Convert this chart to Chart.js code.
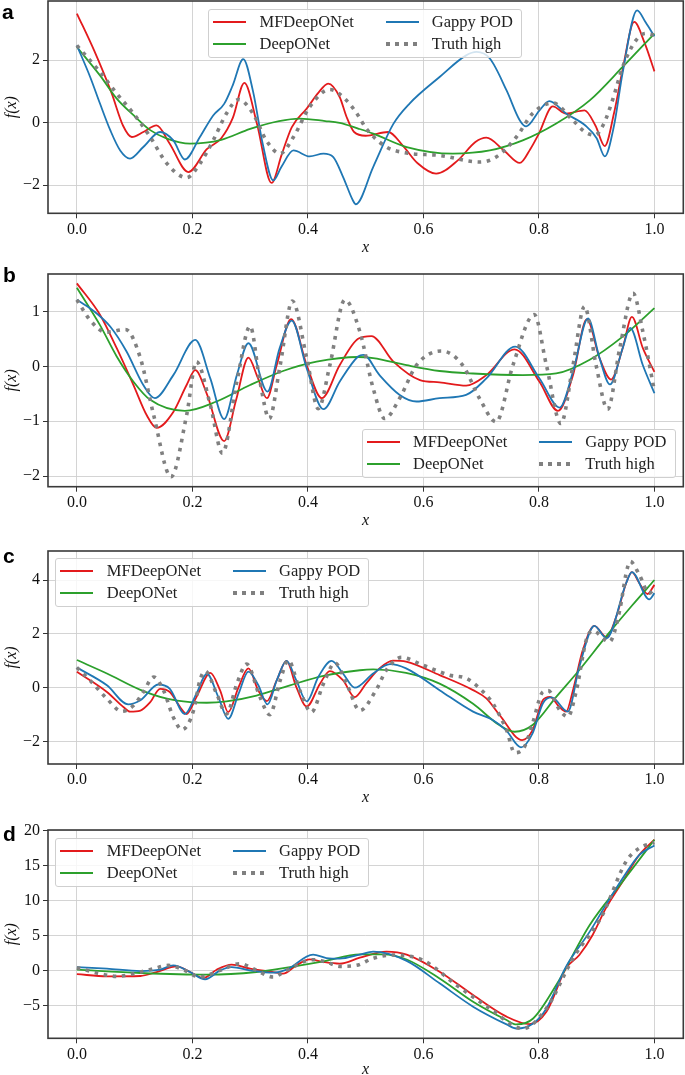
<!DOCTYPE html>
<html lang="en">
<head>
<meta charset="UTF-8"/>
<title>MFDeepONet vs DeepONet vs Gappy POD</title>
<script src="https://cdn.jsdelivr.net/npm/chart.js@4.4.1/dist/chart.umd.min.js"></script>
<style>
  html, body { margin: 0; padding: 0; background: #fff; }
  body { width: 685px; height: 1075px; position: relative; overflow: hidden; font-family: "Liberation Serif", serif; }
  canvas { position: absolute; left: 0; }
  .tag { position: absolute; font: bold 21px/21px "Liberation Sans", Arial, sans-serif; color: #000; }
  .legend { position: absolute; width: 314px; height: 49px; border: 1px solid #cfcfcf; border-radius: 3px;
            background: rgba(255,255,255,0.8); box-sizing: border-box; }
  .sample { position: absolute; width: 33px; }
  .label { position: absolute; font-size: 16.5px; line-height: 16px; color: #222; transform: translateY(-50%); white-space: nowrap; }
</style>
</head>
<body>
<canvas id="ca" width="685" height="260" style="top:0px"></canvas>
<canvas id="cb" width="685" height="265" style="top:265px"></canvas>
<canvas id="cc" width="685" height="270" style="top:540px"></canvas>
<canvas id="cd" width="685" height="260" style="top:815px"></canvas>
<script>
// ---- data ----
const names = ['MFDeepONet', 'DeepONet', 'Gappy POD', 'Truth high']
const xTicks = [0, 0.2, 0.4, 0.6, 0.8, 1.0]
const xTickLabels = ['0.0', '0.2', '0.4', '0.6', '0.8', '1.0']

// panel a
const aMF = [[0,3.49],[0.03,2.3],[0.06,0.95],[0.08,-0.1],[0.095,-0.46],[0.115,-0.3],[0.138,-0.09],[0.16,-0.65],[0.193,-1.58],[0.225,-0.85],[0.25,-0.5],[0.27,0.15],[0.29,1.27],[0.312,-0.05],[0.337,-1.93],[0.355,-1.0],[0.372,-0.15],[0.398,0.45],[0.418,0.95],[0.435,1.25],[0.455,0.82],[0.467,0.18],[0.48,-0.3],[0.5,-0.42],[0.539,-0.3],[0.565,-0.75],[0.59,-1.3],[0.622,-1.63],[0.66,-1.2],[0.69,-0.62],[0.709,-0.48],[0.74,-0.9],[0.767,-1.29],[0.785,-0.85],[0.8,-0.35],[0.824,0.52],[0.847,0.29],[0.879,0.39],[0.898,-0.1],[0.914,-0.75],[0.93,0.3],[0.945,1.7],[0.965,3.22],[0.983,2.55],[1.0,1.64]]
const aDeep = [[0,2.42],[0.04,1.51],[0.069,0.77],[0.098,0.24],[0.127,-0.24],[0.156,-0.51],[0.196,-0.67],[0.25,-0.55],[0.3,-0.2],[0.35,0.05],[0.386,0.13],[0.43,0.05],[0.455,-0.01],[0.487,-0.19],[0.513,-0.35],[0.571,-0.78],[0.651,-0.99],[0.715,-0.89],[0.772,-0.57],[0.83,-0.03],[0.888,0.71],[0.945,1.78],[1.0,2.85]]
const aGappy = [[0,2.47],[0.023,1.46],[0.04,0.61],[0.058,-0.25],[0.075,-0.89],[0.092,-1.15],[0.115,-0.78],[0.144,-0.3],[0.167,-0.57],[0.187,-1.18],[0.213,-0.46],[0.236,0.23],[0.255,0.6],[0.27,1.2],[0.288,2.03],[0.305,1.0],[0.322,-0.7],[0.34,-1.85],[0.354,-1.42],[0.375,-0.89],[0.403,-1.08],[0.427,-0.99],[0.444,-1.1],[0.461,-1.74],[0.478,-2.49],[0.483,-2.61],[0.513,-1.42],[0.548,-0.04],[0.576,0.61],[0.628,1.46],[0.674,2.15],[0.692,2.26],[0.715,2.05],[0.744,1.03],[0.767,0.07],[0.778,-0.12],[0.801,0.39],[0.818,0.69],[0.847,0.29],[0.881,-0.1],[0.9,-0.5],[0.914,-1.08],[0.93,-0.1],[0.945,1.6],[0.97,3.59],[0.985,3.2],[1.0,2.76]]
const aTruth = [[0,2.47],[0.04,1.62],[0.069,0.93],[0.098,0.29],[0.127,-0.46],[0.156,-1.31],[0.19,-1.76],[0.213,-1.31],[0.236,-0.57],[0.259,0.29],[0.28,0.74],[0.305,0.29],[0.328,-0.57],[0.352,-0.99],[0.375,-0.46],[0.403,0.5],[0.438,1.06],[0.467,0.71],[0.487,0.23],[0.501,-0.19],[0.536,-0.78],[0.571,-0.97],[0.628,-1.05],[0.697,-1.26],[0.726,-1.1],[0.761,-0.46],[0.789,0.29],[0.824,0.63],[0.859,0.07],[0.88,-0.3],[0.897,-0.4],[0.912,-0.05],[0.928,0.75],[0.945,1.78],[0.968,2.63],[0.985,2.85],[1.0,2.8]]
const aYTicks = [-2, 0, 2]
const aYLabels = ['\u22122', '0', '2']

// panel b
const bMF = [[0,1.51],[0.04,0.94],[0.069,0.33],[0.098,-0.34],[0.121,-0.89],[0.138,-1.12],[0.167,-0.83],[0.19,-0.34],[0.205,-0.07],[0.225,-0.5],[0.255,-1.36],[0.276,-0.6],[0.297,0.16],[0.313,-0.2],[0.329,-0.58],[0.346,0.02],[0.371,0.86],[0.398,0.02],[0.424,-0.58],[0.455,0.02],[0.487,0.5],[0.51,0.55],[0.548,0.085],[0.594,-0.25],[0.628,-0.29],[0.674,-0.35],[0.709,-0.16],[0.758,0.31],[0.801,-0.28],[0.833,-0.81],[0.859,-0.16],[0.883,0.86],[0.905,0.15],[0.925,-0.24],[0.945,0.33],[0.961,0.9],[0.98,0.33],[1.0,-0.1]]
const bDeep = [[0,1.43],[0.04,0.75],[0.069,0.18],[0.098,-0.28],[0.127,-0.61],[0.187,-0.81],[0.242,-0.64],[0.3,-0.34],[0.357,-0.085],[0.415,0.085],[0.487,0.17],[0.513,0.15],[0.571,0.02],[0.628,-0.085],[0.686,-0.13],[0.772,-0.16],[0.83,-0.13],[0.888,0.12],[0.945,0.54],[1.0,1.06]]
const bGappy = [[0,1.21],[0.03,1.0],[0.058,0.72],[0.086,0.27],[0.115,-0.34],[0.135,-0.58],[0.167,-0.16],[0.205,0.48],[0.231,-0.22],[0.255,-0.96],[0.277,-0.16],[0.297,0.42],[0.33,-0.46],[0.351,0.33],[0.372,0.83],[0.398,-0.04],[0.427,-0.78],[0.455,-0.28],[0.487,0.18],[0.496,0.21],[0.524,-0.16],[0.559,-0.52],[0.588,-0.64],[0.628,-0.58],[0.674,-0.52],[0.709,-0.22],[0.759,0.36],[0.801,-0.22],[0.836,-0.75],[0.859,-0.1],[0.885,0.87],[0.905,0.15],[0.923,-0.33],[0.945,0.33],[0.958,0.7],[0.98,0.02],[1.0,-0.49]]
const bTruth = [[0,1.21],[0.023,0.84],[0.05,0.62],[0.084,0.67],[0.11,0.15],[0.133,-0.89],[0.163,-2.01],[0.19,-0.89],[0.207,0.085],[0.231,-0.7],[0.252,-1.58],[0.277,-0.28],[0.3,0.73],[0.317,-0.28],[0.333,-0.95],[0.352,0.02],[0.373,1.19],[0.398,0.15],[0.418,-0.77],[0.438,0.02],[0.464,1.21],[0.49,0.63],[0.513,-0.4],[0.533,-0.95],[0.559,-0.58],[0.588,0.02],[0.631,0.28],[0.668,0.02],[0.697,-0.58],[0.726,-1.01],[0.755,0.02],[0.792,0.94],[0.813,0.02],[0.838,-1.04],[0.859,0.02],[0.879,1.09],[0.899,0.02],[0.919,-0.78],[0.94,0.33],[0.963,1.33],[0.98,0.63],[1.0,-0.45]]
const bYTicks = [-2, -1, 0, 1]
const bYLabels = ['\u22122', '\u22121', '0', '1']

// panel c
const cMF = [[0,0.59],[0.052,-0.16],[0.081,-0.73],[0.092,-0.89],[0.11,-0.85],[0.127,-0.54],[0.144,-0.04],[0.161,-0.16],[0.179,-0.73],[0.19,-0.98],[0.207,-0.35],[0.231,0.55],[0.248,-0.1],[0.262,-0.91],[0.28,0.02],[0.297,0.72],[0.314,-0.1],[0.329,-0.5],[0.346,0.27],[0.363,1.0],[0.38,0.02],[0.398,-0.7],[0.421,0.15],[0.438,0.62],[0.461,0.27],[0.481,-0.35],[0.501,0.16],[0.524,0.72],[0.547,1.01],[0.57,0.97],[0.628,0.47],[0.686,-0.09],[0.709,-0.4],[0.732,-1.02],[0.771,-1.95],[0.789,-1.58],[0.807,-0.46],[0.819,-0.34],[0.835,-0.71],[0.847,-0.89],[0.859,-0.09],[0.876,1.4],[0.896,2.3],[0.917,1.88],[0.934,2.65],[0.951,3.89],[0.961,4.3],[0.974,3.89],[0.988,3.49],[1.0,3.83]]
const cDeep = [[0,1.03],[0.052,0.53],[0.11,-0.08],[0.156,-0.41],[0.196,-0.54],[0.225,-0.56],[0.259,-0.51],[0.311,-0.29],[0.369,0.09],[0.427,0.44],[0.49,0.65],[0.513,0.68],[0.57,0.55],[0.628,0.15],[0.686,-0.6],[0.732,-1.4],[0.758,-1.64],[0.789,-1.39],[0.83,-0.34],[0.87,0.66],[0.916,1.9],[0.962,3.08],[1.0,4.01]]
const cGappy = [[0,0.75],[0.052,0.09],[0.089,-0.62],[0.11,-0.47],[0.141,0.12],[0.161,-0.04],[0.187,-0.98],[0.207,-0.22],[0.225,0.52],[0.245,-0.35],[0.262,-1.16],[0.28,-0.22],[0.297,0.6],[0.314,0.1],[0.33,-0.62],[0.346,0.27],[0.363,1.0],[0.38,0.27],[0.398,-0.51],[0.418,0.4],[0.441,1.0],[0.461,0.52],[0.481,0.0],[0.513,0.53],[0.542,0.88],[0.57,0.72],[0.628,-0.09],[0.686,-0.89],[0.72,-1.2],[0.743,-1.58],[0.769,-2.22],[0.789,-1.7],[0.807,-0.58],[0.822,-0.36],[0.85,-0.89],[0.87,0.78],[0.896,2.3],[0.917,1.84],[0.951,3.89],[0.961,4.3],[0.991,3.29],[1.0,3.52]]
const cTruth = [[0,0.75],[0.023,0.27],[0.052,-0.41],[0.078,-0.88],[0.098,-0.66],[0.115,-0.16],[0.133,0.4],[0.15,-0.1],[0.167,-1.1],[0.182,-1.56],[0.202,-0.85],[0.213,0.27],[0.222,0.62],[0.242,-0.22],[0.259,-0.98],[0.277,0.15],[0.294,0.88],[0.317,-0.35],[0.334,-1.0],[0.352,0.27],[0.366,1.02],[0.386,-0.1],[0.406,-0.91],[0.427,0.15],[0.447,0.92],[0.467,0.15],[0.49,-0.85],[0.518,-0.09],[0.536,0.66],[0.562,1.13],[0.599,0.84],[0.645,0.47],[0.674,0.35],[0.697,-0.02],[0.72,-0.58],[0.744,-1.58],[0.758,-2.42],[0.775,-2.2],[0.789,-1.33],[0.807,-0.15],[0.816,-0.11],[0.836,-0.83],[0.85,-1.08],[0.865,-0.09],[0.882,1.78],[0.893,2.12],[0.922,1.71],[0.94,2.89],[0.951,4.26],[0.958,4.7],[0.974,4.2],[0.991,3.52],[1.0,3.7]]
const cYTicks = [-2, 0, 2, 4]
const cYLabels = ['\u22122', '0', '2', '4']

// panel d
const dMF = [[0,-0.48],[0.052,-0.81],[0.11,-0.76],[0.138,-0.19],[0.173,0.62],[0.196,-0.19],[0.219,-1.05],[0.242,0.14],[0.268,0.86],[0.3,0.29],[0.34,-0.19],[0.357,-0.43],[0.38,0.76],[0.403,1.62],[0.427,1.24],[0.455,1.0],[0.49,1.86],[0.536,2.72],[0.571,2.3],[0.628,-0.14],[0.686,-3.48],[0.744,-6.57],[0.784,-7.64],[0.813,-5.87],[0.847,0.33],[0.87,2.24],[0.893,5.1],[0.916,8.93],[0.945,12.74],[0.974,16.56],[1.0,18.71]]
const dDeep = [[0,0.14],[0.11,-0.33],[0.225,-0.57],[0.311,-0.19],[0.369,0.52],[0.427,1.33],[0.49,2.33],[0.53,2.34],[0.571,1.6],[0.628,-1.1],[0.686,-4.43],[0.744,-7.05],[0.761,-7.68],[0.79,-6.83],[0.83,-2.05],[0.888,6.54],[0.945,12.74],[1.0,18.71]]
const dGappy = [[0,0.52],[0.052,0.29],[0.11,-0.05],[0.144,0.14],[0.167,0.76],[0.196,-0.19],[0.222,-1.24],[0.248,0.05],[0.268,0.52],[0.3,0.05],[0.34,-0.29],[0.363,0.14],[0.409,2.29],[0.432,1.81],[0.455,1.71],[0.49,2.29],[0.513,2.72],[0.571,1.4],[0.628,-1.81],[0.686,-5.14],[0.744,-7.67],[0.761,-8.26],[0.79,-7.54],[0.813,-5.39],[0.847,0.57],[0.888,5.58],[0.916,9.4],[0.945,13.22],[0.974,16.56],[1.0,17.9]]
const dTruth = [[0,0.43],[0.04,-0.43],[0.069,-0.81],[0.098,-0.43],[0.133,0.29],[0.158,0.76],[0.184,0.14],[0.213,-0.9],[0.248,0.05],[0.282,1.0],[0.311,0.05],[0.34,-0.9],[0.363,0.05],[0.409,1.57],[0.432,1.24],[0.455,0.62],[0.484,0.76],[0.513,1.77],[0.547,2.24],[0.599,1.5],[0.657,-2.05],[0.715,-5.39],[0.772,-8.26],[0.813,-5.39],[0.859,1.77],[0.91,7.97],[0.951,15.61],[0.974,17.52],[1.0,18.3]]
const dYTicks = [-5, 0, 5, 10, 15, 20]
const dYLabels = ['\u22125', '0', '5', '10', '15', '20']

// ---- styling ----
const styles = [
  { color: '#e31a1c', width: 1.8, dash: [], order: 4 },
  { color: '#2ca02c', width: 1.8, dash: [], order: 3 },
  { color: '#1f77b4', width: 1.8, dash: [], order: 2 },
  { color: '#808080', width: 3.6, dash: [3.6, 5.6], order: 1 }
]
const tickFont = { family: 'Liberation Serif', size: 16 }
const titleFont = { family: 'Liberation Serif', size: 16, style: 'italic' }

const panels = [
  { id: 'ca', tag: 'a', series: [aMF, aDeep, aGappy, aTruth], yTicks: aYTicks, yLabels: aYLabels,
    min: -2.9, max: 3.89, padTop: 1, xh: 46.7, titlePad: 2.9, tagPos: [2, 0.7], legend: [208, 9] },
  { id: 'cb', tag: 'b', series: [bMF, bDeep, bGappy, bTruth], yTicks: bYTicks, yLabels: bYLabels,
    min: -2.19, max: 1.68, padTop: 9, xh: 43.3, titlePad: -0.4, tagPos: [3, 264], legend: [361.5, 429.3] },
  { id: 'cc', tag: 'c', series: [cMF, cDeep, cGappy, cTruth], yTicks: cYTicks, yLabels: cYLabels,
    min: -2.84, max: 5.09, padTop: 11, xh: 46, titlePad: 2.9, tagPos: [3, 545.3], legend: [55.3, 558.3] },
  { id: 'cd', tag: 'd', series: [dMF, dDeep, dGappy, dTruth], yTicks: dYTicks, yLabels: dYLabels,
    min: -9.66, max: 20.1, padTop: 15, xh: 36.7, titlePad: -4.8, tagPos: [3, 823.2], legend: [55.3, 838.3] }
]

const frame = {
  id: 'frame',
  afterDraw(chart) {
    const a = chart.chartArea, ctx = chart.ctx
    ctx.save()
    ctx.strokeStyle = '#3a3a3a'
    ctx.lineWidth = 1.6
    ctx.strokeRect(a.left, a.top, a.right - a.left, a.bottom - a.top)
    ctx.restore()
  }
}

const gridOpts = { color: '#cfcfcf', lineWidth: 0.9, borderDash: [1.2, 2.2], tickColor: '#333', tickLength: 5, tickWidth: 1, tickBorderDash: [] }

panels.forEach(p => {
  new Chart(document.getElementById(p.id), {
    type: 'line',
    data: {
      datasets: p.series.map((s, i) => ({
        label: names[i],
        data: s.map(([x, y]) => ({ x, y })),
        borderColor: styles[i].color,
        borderWidth: styles[i].width,
        borderDash: styles[i].dash,
        borderCapStyle: 'butt',
        order: styles[i].order,
        pointRadius: 0,
        fill: false,
        cubicInterpolationMode: 'monotone'
      }))
    },
    options: {
      responsive: false,
      animation: false,
      layout: { padding: { left: 0, right: 1.7, top: p.padTop, bottom: 0 } },
      plugins: { legend: { display: false }, tooltip: { enabled: false } },
      scales: {
        x: {
          type: 'linear', min: -0.05, max: 1.05,
          afterBuildTicks: s => { s.ticks = xTicks.map(v => ({ value: v })) },
          afterFit: s => { s.height = p.xh; s.paddingLeft = 0; s.paddingRight = 0 },
          ticks: { font: tickFont, color: '#111', padding: 1.5, maxRotation: 0, autoSkip: false,
                   callback: (v, i) => xTickLabels[i] },
          grid: gridOpts,
          border: { display: false },
          title: { display: true, text: 'x', font: titleFont, color: '#111', padding: { top: 0, bottom: p.titlePad } }
        },
        y: {
          type: 'linear', min: p.min, max: p.max,
          afterBuildTicks: s => { s.ticks = p.yTicks.map(v => ({ value: v })) },
          afterFit: s => { s.width = 48; s.paddingTop = 0; s.paddingBottom = 0 },
          ticks: { font: tickFont, color: '#111', padding: 3, autoSkip: false,
                   callback: (v, i) => p.yLabels[i] },
          grid: gridOpts,
          border: { display: false },
          title: { display: true, text: 'f(x)', font: titleFont, color: '#111', padding: { top: 2, bottom: 0 } }
        }
      }
    },
    plugins: [frame]
  })

  // panel letter
  const tag = document.createElement('div')
  tag.className = 'tag'
  tag.textContent = p.tag
  tag.style.left = p.tagPos[0] + 'px'
  tag.style.top = p.tagPos[1] + 'px'
  document.body.appendChild(tag)

  // two-column legend box
  const box = document.createElement('div')
  box.className = 'legend'
  box.style.left = p.legend[0] + 'px'
  box.style.top = p.legend[1] + 'px'
  names.forEach((n, i) => {
    const col = i < 2 ? 0 : 1, row = i % 2
    const cy = 12.2 + row * 21.5
    const sm = document.createElement('div')
    sm.className = 'sample'
    sm.style.left = (4 + col * 172.5) + 'px'
    if (styles[i].dash.length) {
      sm.style.height = '4px'
      sm.style.top = (cy - 2) + 'px'
      sm.style.background = 'repeating-linear-gradient(90deg, #808080 0 4px, transparent 4px 9px)'
    } else {
      sm.style.height = '2px'
      sm.style.top = (cy - 1) + 'px'
      sm.style.background = styles[i].color
    }
    box.appendChild(sm)
    const lb = document.createElement('div')
    lb.className = 'label'
    lb.textContent = n
    lb.style.left = (50.5 + col * 172.3) + 'px'
    lb.style.top = cy + 'px'
    box.appendChild(lb)
  })
  document.body.appendChild(box)
})
</script>
</body>
</html>
